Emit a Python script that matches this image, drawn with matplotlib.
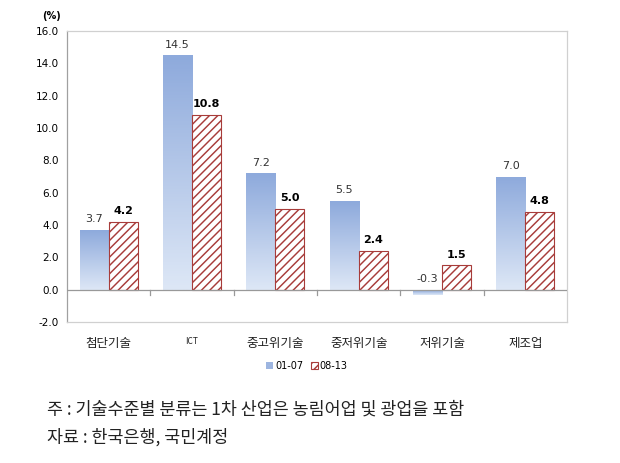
import numpy as np
import matplotlib.pyplot as plt
from matplotlib.colors import LinearSegmentedColormap

plt.rcParams['font.family'] = ['Noto Sans CJK KR', 'DejaVu Sans']
plt.rcParams['hatch.linewidth'] = 1.05
plt.rcParams['hatch.color'] = '#BE5654'

categories = ['첨단기술', 'ICT', '중고위기술', '중저위기술', '저위기술', '제조업']
tick_labels = categories
s0107 = [3.7, 14.5, 7.2, 5.5, -0.3, 7.0]
s0813 = [4.2, 10.8, 5.0, 2.4, 1.5, 4.8]
series_names = ['01-07', '08-13']
yticks = [-2.0, 0.0, 2.0, 4.0, 6.0, 8.0, 10.0, 12.0, 14.0, 16.0]

fig = plt.figure(figsize=(6.2, 4.63), dpi=100)
ax = fig.add_axes([67/620, 1-322/463, 500/620, 291/463])

x = np.arange(len(categories))
w = 0.35
grad = LinearSegmentedColormap.from_list('g', ['#DDE7F6', '#8EAADC'])

b1 = ax.bar(x - w/2, s0107, w, color='none', edgecolor='none', label=series_names[0])
for r in b1:
    x0, y0 = r.get_x(), r.get_y()
    h = r.get_height()
    top = max(y0, y0 + h)
    img = ax.imshow(np.linspace(0, 1, 100).reshape(-1, 1), cmap=grad, origin='lower',
                    extent=[x0, x0 + r.get_width(), min(0, y0 + h), top], aspect='auto',
                    zorder=2)
    img.set_clip_path(r)
b2 = ax.bar(x + w/2, s0813, w, color='white', edgecolor='#A83C3A', linewidth=0.8,
            hatch='////', label=series_names[1], zorder=3)

for i in range(len(categories)):
    v = s0107[i]
    ax.text(x[i] - w/2, max(v, 0) + 0.35, f'{v:.1f}', ha='center', va='bottom',
            fontsize=8, color='#333333', family='DejaVu Sans')
    v = s0813[i]
    ax.text(x[i] + w/2, v + 0.35, f'{v:.1f}', ha='center', va='bottom',
            fontsize=8, fontweight='bold', color='black', family='DejaVu Sans')

ax.set_xlim(-0.5, len(categories) - 0.5)
ax.set_ylim(-2, 16)
ax.set_yticks(yticks)
ax.set_yticklabels([f'{t:.1f}' for t in yticks], fontsize=7.5, family='DejaVu Sans')
ax.tick_params(axis='y', length=0, pad=6)
ax.set_xticks([])
ax.axhline(0, color='#999999', linewidth=0.9, zorder=4)
for b in np.arange(0.5, len(categories) - 0.5):
    ax.plot([b, b], [0, -0.35], color='#999999', linewidth=0.9, zorder=4)
for i, c in enumerate(tick_labels):
    fs = 6 if c == 'ICT' else 9
    ax.text(x[i], -2.9, c, ha='center', va='top', fontsize=fs, color='#222222')
for sp in ax.spines.values():
    sp.set_color('#D0D0D0')
    sp.set_linewidth(0.9)
ax.spines['left'].set_color('#A0A0A0')

fig.text(42/620, 1-16/463, '(%)', fontsize=7, fontweight='bold', ha='left', va='center',
         family='DejaVu Sans')

leg = ax.legend(loc='upper center', bbox_to_anchor=(0.48, -0.105), ncol=2, frameon=False,
                fontsize=7, handlelength=0.7, handleheight=0.7, handletextpad=0.2,
                columnspacing=0.8)
leg.legend_handles[0].set_facecolor('#9DB5E0')
for t in leg.get_texts():
    t.set_family('DejaVu Sans')

fig.text(47/620, 1-410/463, '주 : 기술수준별 분류는 1차 산업은 농림어업 및 광업을 포함', fontsize=12.5,
         ha='left', va='center', color='#222222')
fig.text(47/620, 1-437/463, '자료 : 한국은행, 국민계정', fontsize=12.5, ha='left', va='center',
         color='#222222')

fig.savefig('out.png', dpi=100)
